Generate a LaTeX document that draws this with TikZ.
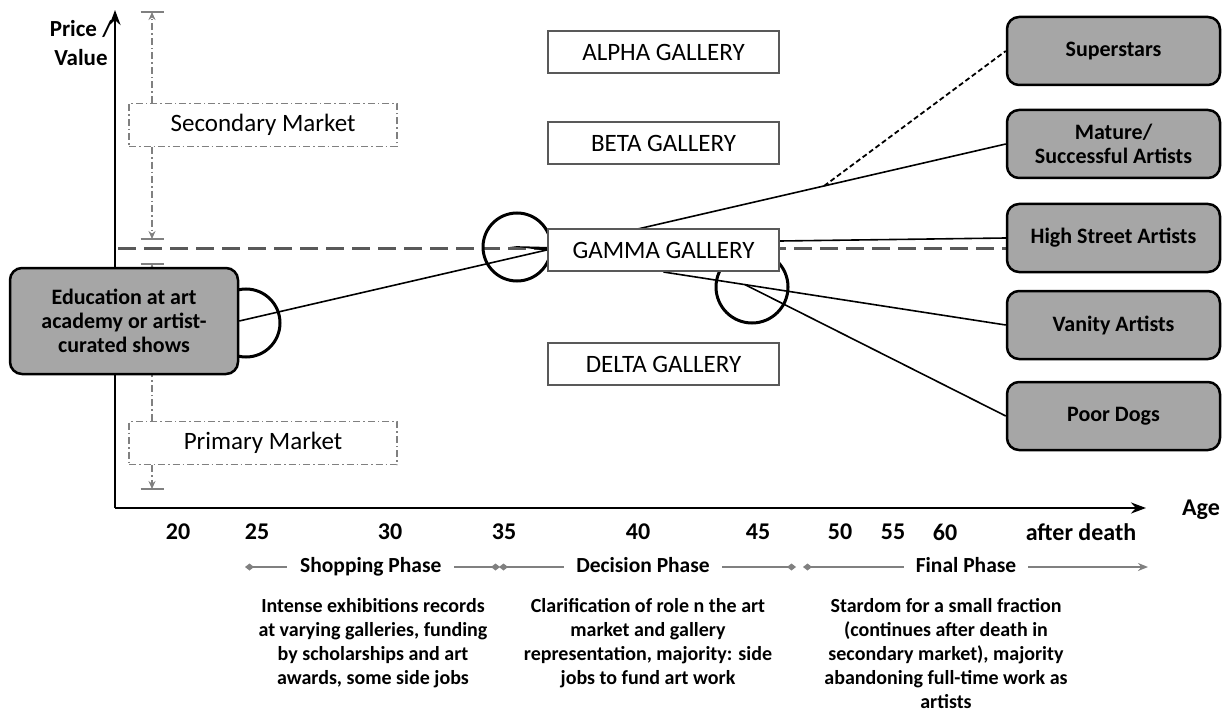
\documentclass[tikz,border=0pt]{standalone}
\usepackage{fontspec}
\setmainfont{Carlito}
\usetikzlibrary{arrows.meta,calc,backgrounds}

\definecolor{boxgray}{RGB}{166,166,166}
\definecolor{framegray}{RGB}{89,89,89}
\definecolor{mkgray}{RGB}{128,128,128}

\begin{document}
\begin{tikzpicture}[x=1pt,y=-1pt,
  artist/.style={draw=black, line width=2.5pt, rounded corners=12pt, fill=boxgray,
    minimum width=213pt, minimum height=68pt, align=center, inner sep=2pt,
    font=\fontsize{22}{24}\selectfont\bfseries},
  gallery/.style={draw=framegray, line width=2pt, fill=white,
    minimum width=231pt, minimum height=42pt, inner sep=0pt,
    font=\fontsize{25}{28}\selectfont},
  market/.style={draw=mkgray, line width=1.5pt, fill=white,
    dash pattern=on 7pt off 3pt on 1.5pt off 3pt,
    minimum width=268pt, minimum height=43pt, inner sep=0pt,
    font=\fontsize{25}{28}\selectfont},
  link/.style={line width=1.6pt},
  ring/.style={line width=3pt},
  levelline/.style={framegray, line width=3pt, dash pattern=on 18pt off 8pt},
  dimarrow/.style={mkgray, line width=1.5pt, dash pattern=on 7pt off 3pt on 1.5pt off 3pt,
    -{Stealth[length=8pt,width=7pt]}},
  dimbar/.style={mkgray, line width=2pt},
  axis/.style={line width=2.5pt, -{Stealth[length=15pt,width=11pt]}},
  agelabel/.style={font=\fontsize{24}{28}\selectfont\bfseries},
  phaseline/.style={mkgray, line width=2pt},
  phaselabel/.style={fill=white, inner xsep=12pt, inner ysep=2pt,
    text height=15pt, text depth=5pt,
    font=\fontsize{21.5}{24}\selectfont\bfseries},
  note/.style={align=center, anchor=north, inner sep=0pt,
    font=\fontsize{20}{24}\selectfont\bfseries},
  dmd/.tip={Diamond[length=9pt,width=7pt]}
]
\useasboundingbox (0,0) rectangle (1230,711);

% gallery tiers
\node[gallery] (alpha) at (663.5,52)  {ALPHA GALLERY};
\node[gallery] (beta)  at (663.5,143) {BETA GALLERY};
\node[gallery] (gamma) at (663.5,250) {GAMMA GALLERY};
\node[gallery] (delta) at (663.5,364) {DELTA GALLERY};

% career outcomes
\node[artist] (star)   at (1113.5,51)  {Superstars};
\node[artist] (mature) at (1113.5,144) {Mature/\\Successful Artists};
\node[artist] (hs)     at (1113.5,238) {High Street Artists};
\node[artist] (vanity) at (1113.5,325) {Vanity Artists};
\node[artist] (poor)   at (1113.5,416) {Poor Dogs};

% market segments
\node[market] (secondary) at (263,125) {Secondary Market};
\node[market] (primary)   at (263,443) {Primary Market};

% starting point
\node[artist, minimum width=228pt, minimum height=106pt] (edu) at (124,321)
  {Education at art\\academy or artist-\\curated shows};

% axis labels
\node[font=\fontsize{23}{29}\selectfont\bfseries, align=center] (ylab) at (81,43) {Price /\\Value};
\node[agelabel] (xlab) at (1201,510) {Age};

% reference points
\coordinate (org)  at (115,508);
\coordinate (ytip) at (115,10);
\coordinate (xtip) at (1146,508);
\coordinate (dimx) at (152,0);
\coordinate (sectop) at (152,12);
\coordinate (secbot) at (152,239);
\coordinate (pritop) at (152,264);
\coordinate (pribot) at (152,489);
\coordinate (dashstart) at (118,248);
\coordinate (starfork) at ($(edu.east)!0.763!(mature.west)$);
\coordinate (dogfork)  at ($(gamma.south)!0.238!(vanity.west)$);
\coordinate (hsstart)  at ($(gamma.east)+(0,-9)$);

\begin{pgfonlayer}{background}
  % threshold between primary and secondary market
  \draw[levelline] (dashstart) -- (dashstart -| hs.west);

  % extent of the market segments
  \draw[dimarrow] (secondary.north -| dimx) -- (sectop);
  \draw[dimarrow] (secondary.south -| dimx) -- (secbot);
  \draw[dimarrow] (primary.north -| dimx) -- (pritop);
  \draw[dimarrow] (primary.south -| dimx) -- (pribot);
  \foreach \p in {sectop,secbot,pritop,pribot}
    \draw[dimbar] ([xshift=-11.5pt]\p) -- ([xshift=11.5pt]\p);

  % decision points
  \draw[ring] (246,323) circle[radius=34pt];
  \draw[ring] (517,247) circle[radius=34pt];
  \draw[ring] (752,287) circle[radius=36pt];

  % career paths
  \draw[link] (edu.east) -- (mature.west);
  \draw[link, line width=1.8pt, dash pattern=on 5pt off 3pt] (starfork) -- (star.west);
  \draw[link] (hsstart) -- (hs.west);
  \draw[link] (gamma.south) -- (vanity.west);
  \draw[link] (dogfork) -- (poor.west);
  \fill (510,246) -- (549,247) -- (549,251) -- cycle;

  % axes
  \draw[axis] (org) -- (ytip);
  \draw[axis] (org) -- (xtip);
\end{pgfonlayer}

% age scale
\node[agelabel] (a20) at (178,532) {20};
\node[agelabel] (a25) at (257,532) {25};
\node[agelabel] (a30) at (390,532) {30};
\node[agelabel] (a35) at (504,532) {35};
\node[agelabel] (a40) at (638,532) {40};
\node[agelabel] (a45) at (758,532) {45};
\node[agelabel] (a50) at (840,532) {50};
\node[agelabel] (a55) at (893,532) {55};
\node[agelabel] (a60) at (945,532) {60};
\node[agelabel] (aend) at (1081,532) {after death};

% career phases
\coordinate (p1a) at (245,567);
\coordinate (p1b) at (500,567);
\coordinate (p2a) at (499,567);
\coordinate (p2b) at (796,567);
\coordinate (p3a) at (803,567);
\coordinate (p3b) at (1148,567);
\draw[phaseline, {dmd}-{dmd}] (p1a) -- (p1b);
\draw[phaseline, {dmd}-{dmd}] (p2a) -- (p2b);
\draw[phaseline, {dmd}-{Stealth[length=10pt,width=8pt]}] (p3a) -- (p3b);
\node[phaselabel, anchor=west, inner xsep=13pt] (shop) at (287,567) {Shopping Phase};
\node[phaselabel] (decide) at (643,567) {Decision Phase};
\node[phaselabel] (final)  at (966,567) {Final Phase};

% phase descriptions
\node[note] (shopnote) at (373,598)
  {Intense exhibitions records\\at varying galleries, funding\\by scholarships and art\\awards, some side jobs};
\node[note] (decidenote) at (648,598)
  {Clarification of role n the art\\market and gallery\\representation, majority: side\\jobs to fund art work};
\node[note] (finalnote) at (946,598)
  {Stardom for a small fraction\\(continues after death in\\secondary market), majority\\abandoning full-time work as\\artists};
\end{tikzpicture}
\end{document}
